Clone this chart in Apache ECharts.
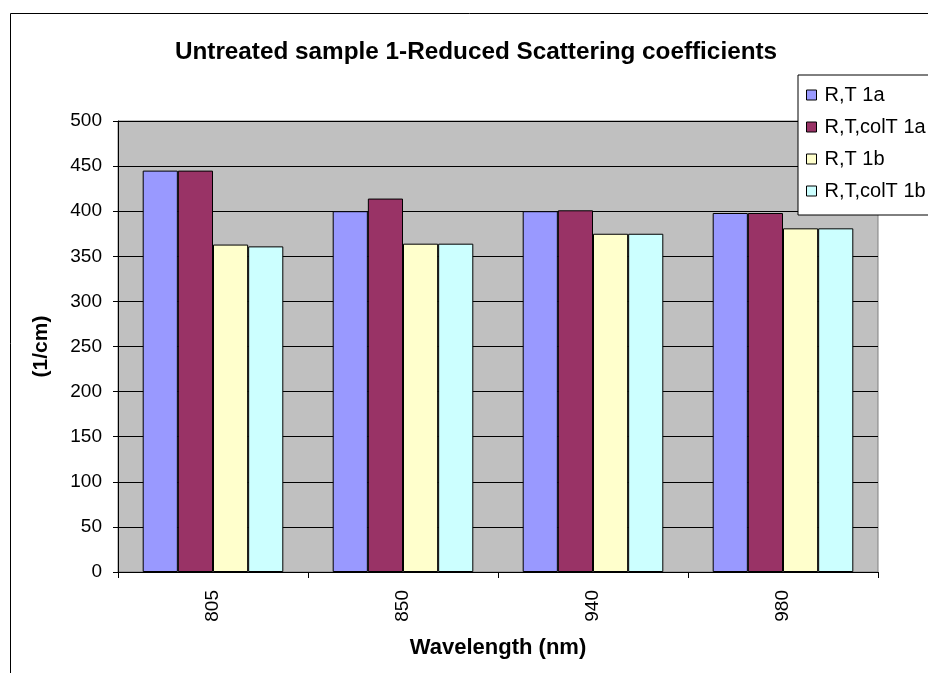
<!DOCTYPE html>
<html>
<head>
<meta charset="utf-8">
<script src="https://cdn.jsdelivr.net/npm/echarts@6/dist/echarts.min.js"></script>
<style>
  html, body { margin: 0; padding: 0; background: #fff; }
  #chart { width: 928px; height: 673px; }
</style>
</head>
<body>
<div id="chart"></div>
<script>
// Reduced scattering coefficients per wavelength, untreated sample 1
const wavelengths = ['805', '850', '940', '980'];
const seriesNames = ['R,T 1a', 'R,T,colT 1a', 'R,T 1b', 'R,T,colT 1b'];
const rt1a = [445, 400, 400, 398];
const rtcol1a = [445, 414, 401, 398];
const rt1b = [363, 364, 375, 381];
const rtcol1b = [361, 364, 375, 381];
const yTicks = [0, 50, 100, 150, 200, 250, 300, 350, 400, 450, 500];

const colors = ['#9999FF', '#993366', '#FFFFCC', '#CCFFFF'];
const values = [rt1a, rtcol1a, rt1b, rtcol1b];
const font = 'Liberation Sans, Arial, sans-serif';

const chart = echarts.init(document.getElementById('chart'), null, { renderer: 'canvas' });

chart.setOption({
  backgroundColor: '#ffffff',
  animation: false,
  textStyle: { fontFamily: font },
  title: {
    text: 'Untreated sample 1-Reduced Scattering coefficients',
    left: 471,
    top: 35,
    textAlign: 'center',
    textStyle: { fontFamily: font, fontSize: 24.3, fontWeight: 'bold', color: '#000' }
  },
  graphic: [{
    type: 'rect',
    z: -10,
    shape: { x: 10.5, y: 13.5, width: 1000, height: 1000 },
    style: { fill: 'none', stroke: '#000', lineWidth: 1 }
  }],
  legend: {
    orient: 'vertical',
    left: 798,
    top: 75,
    data: seriesNames,
    backgroundColor: '#ffffff',
    borderColor: '#000',
    borderWidth: 1,
    padding: [10, 20, 14, 8],
    itemWidth: 10,
    itemHeight: 10,
    itemGap: 12,
    itemStyle: { borderColor: '#000', borderWidth: 1 },
    textStyle: { fontFamily: font, fontSize: 20, color: '#000', padding: [0, 0, 0, 3] },
    icon: 'rect'
  },
  grid: {
    left: 118,
    right: 50,
    top: 121,
    bottom: 101,
    show: true,
    backgroundColor: '#C0C0C0',
    borderColor: '#808080',
    borderWidth: 1
  },
  xAxis: {
    type: 'category',
    data: wavelengths,
    boundaryGap: true,
    name: 'Wavelength (nm)',
    nameLocation: 'middle',
    nameGap: 65,
    nameTextStyle: { fontFamily: font, fontSize: 22, fontWeight: 'bold', color: '#000' },
    axisLine: { show: true, lineStyle: { color: '#000', width: 1 } },
    axisTick: { show: true, length: 6, alignWithLabel: false, lineStyle: { color: '#000' } },
    axisLabel: { rotate: 90, margin: 18, fontFamily: font, fontSize: 19, color: '#000' },
    splitLine: { show: false }
  },
  yAxis: {
    type: 'value',
    min: yTicks[0],
    max: yTicks[yTicks.length - 1],
    interval: yTicks[1] - yTicks[0],
    name: '(1/cm)',
    nameLocation: 'middle',
    nameRotate: 90,
    nameGap: 66,
    nameTextStyle: { fontFamily: font, fontSize: 21, fontWeight: 'bold', color: '#000' },
    axisLine: { show: true, lineStyle: { color: '#000', width: 1 } },
    axisTick: { show: true, length: 5, inside: false, lineStyle: { color: '#000' } },
    axisLabel: { margin: 16, fontFamily: font, fontSize: 19, color: '#000' },
    splitLine: { show: true, lineStyle: { color: '#000', width: 1 } }
  },
  series: seriesNames.map((name, i) => ({
    name: name,
    type: 'bar',
    data: values[i],
    barGap: '0%',
    barCategoryGap: '26%',
    itemStyle: { color: colors[i], borderColor: '#000', borderWidth: 1 }
  }))
});
</script>
</body>
</html>
